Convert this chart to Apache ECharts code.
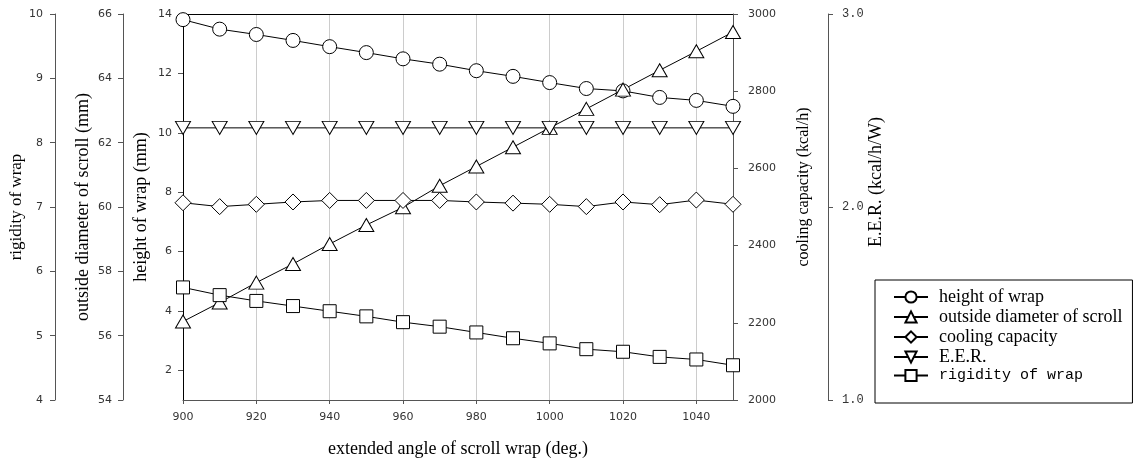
<!DOCTYPE html>
<html>
<head>
<meta charset="utf-8">
<script src="https://cdn.jsdelivr.net/npm/echarts@6/dist/echarts.min.js"></script>
<style>
  html, body { margin: 0; padding: 0; background: #fff; }
  #chart { width: 1135px; height: 466px; }
</style>
</head>
<body>
<div id="chart"></div>
<script>
// extended angle of scroll wrap (deg.)
const angles = [900, 910, 920, 930, 940, 950, 960, 970, 980, 990, 1000, 1010, 1020, 1030, 1040, 1050]

// values
const heightOfWrap = [13.81, 13.49, 13.31, 13.11, 12.9, 12.7, 12.49, 12.31, 12.09, 11.9, 11.69, 11.49, 11.41, 11.19, 11.09, 10.89]
const outsideDiameter = [56.44, 57.03, 57.65, 58.23, 58.85, 59.44, 59.99, 60.66, 61.26, 61.86, 62.46, 63.05, 63.65, 64.25, 64.84, 65.44]
const coolingCapacity = [2511, 2501, 2507, 2513, 2517, 2517, 2517, 2517, 2513, 2510, 2507, 2501, 2513, 2506, 2518, 2507]
const eer = [2.41, 2.41, 2.41, 2.41, 2.41, 2.41, 2.41, 2.41, 2.41, 2.41, 2.41, 2.41, 2.41, 2.41, 2.41, 2.41]
const rigidity = [5.75, 5.63, 5.54, 5.46, 5.38, 5.3, 5.21, 5.14, 5.05, 4.96, 4.88, 4.79, 4.75, 4.67, 4.63, 4.54]

// tick labels of the height axis (axis runs from 1 to 14)
const heightTicks = [2, 4, 6, 8, 10, 12, 14]

const serif = 'Liberation Serif'
const tickFont = { fontFamily: 'DejaVu Sans', fontSize: 11, color: '#333', formatter: (v) => String(v) }

const pairs = (ys) => angles.map((x, i) => [x, ys[i]])

const chart = echarts.init(document.getElementById('chart'))

// 轴名称样式, shift > 0 moves a rotated name upwards
const nameStyle = (size, shift) => ({
  fontFamily: serif,
  fontSize: size,
  color: '#000',
  padding: shift ? [0, 0, 0, shift * 2] : 0,
})

const lineSeries = (name, ys, axis, symbol, size, rotate) => ({
  name,
  type: 'line',
  yAxisIndex: axis,
  data: pairs(ys),
  symbol,
  symbolSize: size,
  symbolRotate: rotate || 0,
  showAllSymbol: true,
  lineStyle: { color: '#000', width: 1 },
  itemStyle: { color: '#fff', borderColor: '#000', borderWidth: 1 },
  emphasis: { disabled: true },
})

chart.setOption({
  animation: false,
  grid: { left: 183, right: 402, top: 14, height: 386 },
  legend: {
    orient: 'vertical',
    left: 875,
    top: 280,
    padding: [8, 10, 20, 18],
    itemGap: 2,
    itemWidth: 34,
    itemHeight: 14,
    borderColor: '#000',
    borderWidth: 1,
    textStyle: { fontFamily: serif, fontSize: 18, color: '#000', padding: [0, 0, 0, 6] },
    data: [
      { name: 'height of wrap' },
      { name: 'outside diameter of scroll' },
      { name: 'cooling capacity' },
      { name: 'E.E.R.' },
      { name: 'rigidity of wrap', textStyle: { fontFamily: 'Liberation Mono', fontSize: 15 } },
    ],
  },
  xAxis: [
    {
      type: 'value',
      min: 900,
      max: 1050,
      interval: 20,
      position: 'bottom',
      name: 'extended angle of scroll wrap (deg.)',
      nameLocation: 'middle',
      nameGap: 40,
      nameTextStyle: nameStyle(18),
      axisLine: { lineStyle: { color: '#555' } },
      axisTick: { length: 4, lineStyle: { color: '#555' } },
      axisLabel: { ...tickFont, margin: 12, showMaxLabel: false },
      splitLine: { show: true, lineStyle: { color: '#ccc', width: 1 } },
    },
    {
      type: 'value',
      min: 900,
      max: 1050,
      position: 'top',
      axisLine: { show: true, lineStyle: { color: '#000' } },
      axisTick: { show: false },
      axisLabel: { show: false },
      splitLine: { show: false },
    },
  ],
  yAxis: [
    {
      // height of wrap
      type: 'value',
      min: 1,
      max: 14,
      position: 'left',
      name: 'height of wrap (mm)',
      nameLocation: 'middle',
      nameRotate: 90,
      nameGap: 33,
      nameTextStyle: nameStyle(18),
      axisLine: { show: true, lineStyle: { color: '#000' } },
      axisTick: { show: true, length: 5, customValues: heightTicks, lineStyle: { color: '#555' } },
      axisLabel: { ...tickFont, margin: 11, customValues: heightTicks },
      splitLine: { show: false },
    },
    {
      // outside diameter of scroll
      type: 'value',
      min: 54,
      max: 66,
      interval: 2,
      position: 'left',
      offset: 60,
      name: 'outside diameter of scroll (mm)',
      nameLocation: 'middle',
      nameRotate: 90,
      nameGap: 31,
      nameTextStyle: nameStyle(18),
      axisLine: { show: true, lineStyle: { color: '#555' } },
      axisTick: { show: true, length: 5, lineStyle: { color: '#555' } },
      axisLabel: { ...tickFont, margin: 11 },
      splitLine: { show: false },
    },
    {
      // rigidity of wrap
      type: 'value',
      min: 4,
      max: 10,
      interval: 1,
      position: 'left',
      offset: 128,
      name: 'rigidity of wrap',
      nameLocation: 'middle',
      nameRotate: 90,
      nameGap: 30,
      nameTextStyle: nameStyle(17),
      axisLine: { show: true, lineStyle: { color: '#555' } },
      axisTick: { show: true, length: 5, lineStyle: { color: '#555' } },
      axisLabel: { ...tickFont, margin: 12 },
      splitLine: { show: false },
    },
    {
      // cooling capacity
      type: 'value',
      min: 2000,
      max: 3000,
      interval: 200,
      position: 'right',
      name: 'cooling capacity (kcal/h)',
      nameLocation: 'middle',
      nameRotate: 90,
      nameGap: 63,
      nameTextStyle: nameStyle(16, 20),
      axisLine: { show: true, lineStyle: { color: '#555' } },
      axisTick: { show: true, length: 5, lineStyle: { color: '#555' } },
      axisLabel: { ...tickFont, margin: 15 },
      splitLine: { show: false },
    },
    {
      // E.E.R.
      type: 'value',
      min: 1,
      max: 3,
      interval: 1,
      position: 'right',
      offset: 95,
      name: 'E.E.R. (kcal/h/W)',
      nameLocation: 'middle',
      nameRotate: 90,
      nameGap: 39,
      nameTextStyle: nameStyle(18, 25),
      axisLine: { show: true, lineStyle: { color: '#555' } },
      axisTick: { show: true, length: 5, lineStyle: { color: '#555' } },
      axisLabel: {
        fontFamily: 'Liberation Mono',
        fontSize: 12,
        color: '#333',
        margin: 14,
        formatter: (v) => v.toFixed(1),
      },
      splitLine: { show: false },
    },
  ],
  series: [
    lineSeries('height of wrap', heightOfWrap, 0, 'circle', 14),
    lineSeries('outside diameter of scroll', outsideDiameter, 1, 'triangle', [15, 13]),
    lineSeries('cooling capacity', coolingCapacity, 3, 'diamond', [16, 16]),
    lineSeries('E.E.R.', eer, 4, 'triangle', [15, 13], 180),
    lineSeries('rigidity of wrap', rigidity, 2, 'rect', 13),
  ],
})
</script>
</body>
</html>
